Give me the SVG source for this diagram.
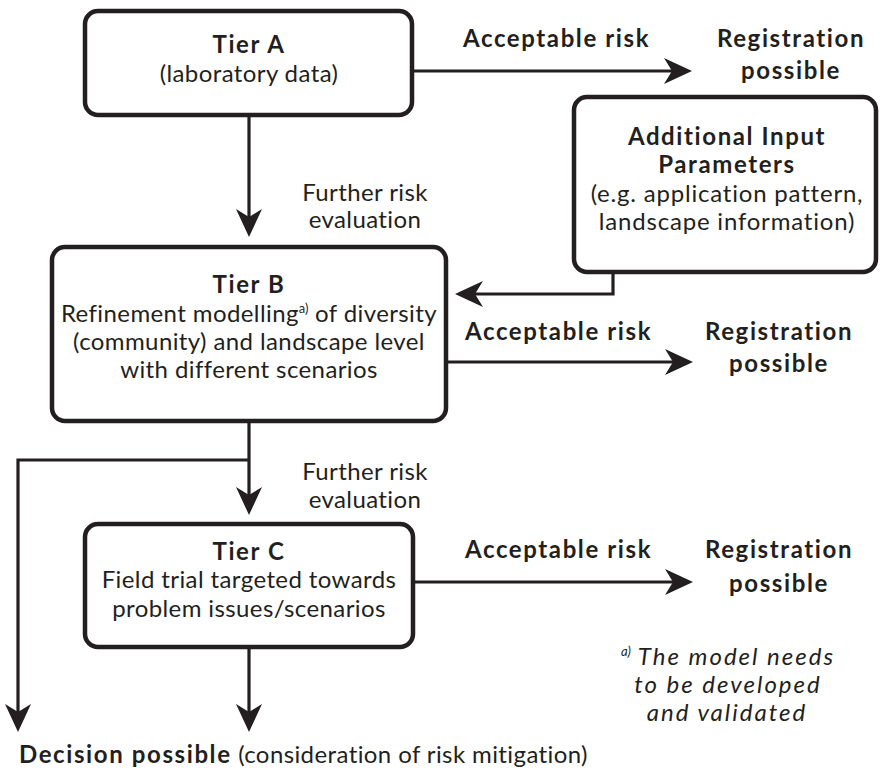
<svg xmlns="http://www.w3.org/2000/svg" width="880" height="772" viewBox="0 0 880 772">
<defs>
<style>
text{font-family:Lato,"Open Sans","Liberation Sans",sans-serif;fill:#231f20;font-size:24px;letter-spacing:0.4px}
.c{text-anchor:middle}
.b{font-weight:bold;letter-spacing:1.6px}
.i{font-style:italic;letter-spacing:2px}
.sup{font-size:13px;letter-spacing:0}
.box{fill:#fff;stroke:#231f20;stroke-width:4.5}
.ln{fill:none;stroke:#231f20;stroke-width:3.2}
</style>
<marker id="ah" markerUnits="userSpaceOnUse" viewBox="0 0 28 26" refX="8" refY="13" markerWidth="28" markerHeight="26" orient="auto">
<path d="M0,0 L28,13 L0,26 L8,13 Z" fill="#231f20"/>
</marker>
</defs>
<rect width="880" height="772" fill="#fff"/>
<g id="connectors">
<path class="ln" d="M412,71 L672,71" marker-end="url(#ah)"/>
<path class="ln" d="M249,117 L249,217" marker-end="url(#ah)"/>
<path class="ln" d="M613,272 L613,294 L475,294" marker-end="url(#ah)"/>
<path class="ln" d="M446,362 L673,362" marker-end="url(#ah)"/>
<path class="ln" d="M249,423 L249,495" marker-end="url(#ah)"/>
<path class="ln" d="M249,460 L18,460 L18,712" marker-end="url(#ah)"/>
<path class="ln" d="M413,582 L673,582" marker-end="url(#ah)"/>
<path class="ln" d="M249,647 L249,712" marker-end="url(#ah)"/>
</g>
<g id="tierA">
<rect class="box" x="85" y="11" width="327" height="104" rx="13"/>
<text class="c b" x="249" y="53">Tier A</text>
<text class="c" x="249" y="82">(laboratory data)</text>
</g>
<g id="additional">
<rect class="box" x="574" y="97" width="302" height="175" rx="13"/>
<text class="c b" x="727" y="145">Additional Input</text>
<text class="c b" x="727" y="173">Parameters</text>
<text class="c" x="727" y="202" style="letter-spacing:0.8px">(e.g. application pattern,</text>
<text class="c" x="727" y="230" style="letter-spacing:0.8px">landscape information)</text>
</g>
<g id="tierB">
<rect class="box" x="52" y="247" width="394" height="174" rx="13"/>
<text class="c b" x="249" y="293">Tier B</text>
<text class="c" x="249" y="322">Refinement modelling<tspan class="sup" dy="-9">a)</tspan><tspan dy="9"> of diversity</tspan></text>
<text class="c" x="249" y="350">(community) and landscape level</text>
<text class="c" x="249" y="378">with different scenarios</text>
</g>
<g id="tierC">
<rect class="box" x="85" y="524" width="328" height="123" rx="13"/>
<text class="c b" x="249" y="560">Tier C</text>
<text class="c" x="249" y="588">Field trial targeted towards</text>
<text class="c" x="249" y="617">problem issues/scenarios</text>
</g>
<g id="labels">
<text class="c" x="365" y="201">Further risk</text>
<text class="c" x="365" y="228">evaluation</text>
<text class="c" x="365" y="480">Further risk</text>
<text class="c" x="365" y="508">evaluation</text>
<text class="b" x="463" y="47">Acceptable risk</text>
<text class="b" x="465" y="340">Acceptable risk</text>
<text class="b" x="465" y="558">Acceptable risk</text>
</g>
<g id="regA">
<text class="c b" x="791" y="47">Registration</text>
<text class="c b" x="791" y="79">possible</text>
</g>
<g id="regB">
<text class="c b" x="779" y="340">Registration</text>
<text class="c b" x="779" y="372">possible</text>
</g>
<g id="regC">
<text class="c b" x="779" y="558">Registration</text>
<text class="c b" x="779" y="592">possible</text>
</g>
<g id="decision">
<text x="19" y="763"><tspan class="b">Decision possible</tspan> (consideration of risk mitigation)</text>
</g>
<g id="footnote">
<text class="c i" x="728" y="665"><tspan class="sup" dy="-9">a)</tspan><tspan dy="9"> The model needs</tspan></text>
<text class="c i" x="728" y="693">to be developed</text>
<text class="c i" x="727" y="721">and validated</text>
</g>
</svg>
